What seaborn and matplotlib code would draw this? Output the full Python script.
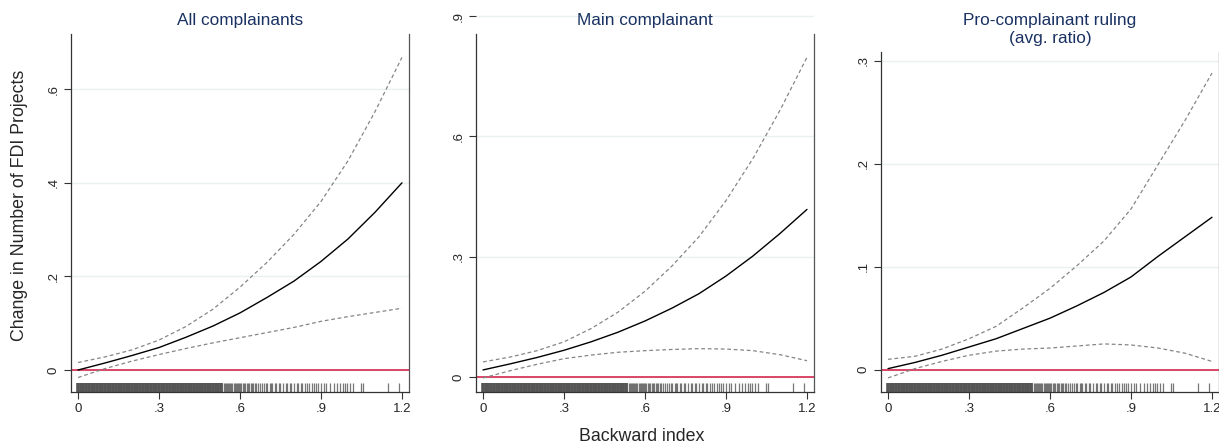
import matplotlib
matplotlib.use('Agg')
import matplotlib.pyplot as plt
import seaborn as sns
import pandas as pd

# x grid of the predicted margins
backward = [0.0, 0.1, 0.2, 0.3, 0.4, 0.5, 0.6, 0.7, 0.8, 0.9, 1.0, 1.1, 1.2]

# All complainants
all_est = [0.000, 0.015, 0.031, 0.048, 0.070, 0.094, 0.122, 0.155, 0.190, 0.232, 0.280, 0.337, 0.400]
all_lo = [-0.016, 0.003, 0.019, 0.033, 0.046, 0.058, 0.069, 0.080, 0.091, 0.104, 0.114, 0.123, 0.132]
all_hi = [0.016, 0.028, 0.043, 0.064, 0.093, 0.130, 0.177, 0.230, 0.290, 0.360, 0.447, 0.552, 0.668]

# Main complainant
main_est = [0.018, 0.033, 0.049, 0.067, 0.088, 0.112, 0.140, 0.172, 0.208, 0.252, 0.302, 0.358, 0.418]
main_lo = [-0.002, 0.016, 0.032, 0.046, 0.055, 0.062, 0.066, 0.069, 0.071, 0.070, 0.066, 0.056, 0.041]
main_hi = [0.038, 0.050, 0.066, 0.088, 0.121, 0.162, 0.214, 0.277, 0.350, 0.440, 0.545, 0.665, 0.797]

# Pro-complainant ruling (avg. ratio)
pro_est = [0.001, 0.007, 0.014, 0.022, 0.030, 0.040, 0.050, 0.062, 0.075, 0.090, 0.110, 0.129, 0.148]
pro_lo = [-0.008, 0.001, 0.008, 0.014, 0.018, 0.020, 0.021, 0.023, 0.025, 0.024, 0.021, 0.016, 0.008]
pro_hi = [0.010, 0.013, 0.020, 0.030, 0.042, 0.060, 0.079, 0.101, 0.125, 0.156, 0.199, 0.242, 0.288]

# observed values of the backward index (rug)
rug_dense = [0.00, 0.01, 0.02, 0.03, 0.04, 0.05, 0.06, 0.07, 0.08, 0.09,
             0.10, 0.11, 0.12, 0.13, 0.14, 0.15, 0.16, 0.17, 0.18, 0.19,
             0.20, 0.21, 0.22, 0.23, 0.24, 0.25, 0.26, 0.27, 0.28, 0.29,
             0.30, 0.31, 0.32, 0.33, 0.34, 0.35, 0.36, 0.37, 0.38, 0.39,
             0.40, 0.41, 0.42, 0.43, 0.44, 0.45, 0.46, 0.47, 0.48, 0.49,
             0.50, 0.51, 0.52, 0.53]
rug_sparse = [0.535, 0.540, 0.544, 0.548, 0.552, 0.556, 0.560, 0.564, 0.568, 0.572,
              0.576, 0.580, 0.584, 0.588, 0.592, 0.596,
              0.600, 0.605, 0.610, 0.615, 0.620, 0.625, 0.630, 0.635, 0.640, 0.645,
              0.650, 0.655, 0.660, 0.668, 0.675, 0.680, 0.690, 0.695, 0.700, 0.710,
              0.715, 0.720, 0.730, 0.735, 0.745, 0.750, 0.760, 0.770, 0.775, 0.785,
              0.790, 0.800, 0.810, 0.815, 0.825, 0.830, 0.840, 0.850, 0.855, 0.865,
              0.875, 0.880, 0.890, 0.900, 0.910, 0.920, 0.933, 0.949, 0.961, 0.970,
              0.980, 0.989, 0.998, 1.007, 1.020, 1.047, 1.057, 1.147, 1.190]

titles = [['All complainants'], ['Main complainant'], ['Pro-complainant ruling', '(avg. ratio)']]
x_ticks = [0, 0.3, 0.6, 0.9, 1.2]
x_ticklabels = ['0', '.3', '.6', '.9', '1.2']
y_ticks = [[0, 0.2, 0.4, 0.6], [0, 0.3, 0.6, 0.9], [0, 0.1, 0.2, 0.3]]
y_ticklabels = [['0', '.2', '.4', '.6'], ['0', '.3', '.6', '.9'], ['0', '.1', '.2', '.3']]

sns.set_style('white')
plt.rcParams['font.family'] = ['Liberation Sans', 'DejaVu Sans']

W, H = 1219, 444
fig = plt.figure(figsize=(W / 100, H / 100), dpi=100)

# axes boxes in pixels: left, right, top, bottom
boxes = [(71, 409, 34, 392), (476, 814, 14, 392), (881, 1219, 52, 392)]
ylims = [(-0.047, 0.718), (-0.037, 0.905), (-0.0217, 0.3085)]
spine_top = [0.718, 0.855, 0.3085]

series = [(all_est, all_lo, all_hi), (main_est, main_lo, main_hi), (pro_est, pro_lo, pro_hi)]

for i in range(3):
    l, r, t, b = boxes[i]
    ax = fig.add_axes([l / W, 1 - b / H, (r - l) / W, (b - t) / H])
    est, lo, hi = series[i]
    df = pd.DataFrame({'x': backward, 'est': est, 'lo': lo, 'hi': hi})

    for yv in y_ticks[i]:
        ax.axhline(yv, color='#eaf1f3', lw=1.0, zorder=0)
    ax.axhline(0, color='#d4163f', lw=1.1, zorder=2)

    sns.lineplot(data=df, x='x', y='lo', ax=ax, color='#858585', lw=0.9,
                 linestyle=(0, (3, 2.2)), zorder=3)
    sns.lineplot(data=df, x='x', y='hi', ax=ax, color='#858585', lw=0.9,
                 linestyle=(0, (3, 2.2)), zorder=3)
    sns.lineplot(data=df, x='x', y='est', ax=ax, color='black', lw=1.0, zorder=4)

    rug_h = 9 / (b - t)
    sns.rugplot(x=rug_dense, ax=ax, height=rug_h, color='#555555', linewidth=2.6)
    sns.rugplot(x=rug_sparse, ax=ax, height=rug_h, color='#5f5f5f', linewidth=0.9, alpha=0.85)

    ax.set_xlim(-0.026, 1.226)
    ax.set_ylim(*ylims[i])
    ax.set_xticks(x_ticks)
    ax.set_xticklabels(x_ticklabels)
    ax.set_yticks(y_ticks[i])
    ax.set_yticklabels(y_ticklabels[i], rotation=90, va='center')
    ax.tick_params(axis='both', direction='out', length=5, width=0.8,
                   color='#333333', labelsize=9.5, pad=3, left=True, bottom=True)
    ax.set_xlabel('')
    ax.set_ylabel('')

    ax.spines['top'].set_visible(False)
    for side in ['left', 'bottom', 'right']:
        ax.spines[side].set_color('#333333')
        ax.spines[side].set_linewidth(0.9)
    ax.spines['right'].set_color('#555555')
    ax.spines['left'].set_bounds(ylims[i][0], spine_top[i])
    ax.spines['right'].set_bounds(ylims[i][0], spine_top[i])

    for k, line in enumerate(titles[i]):
        fig.text((l + r) / 2 / W, 1 - (21 + 17 * k) / H, line, ha='center', va='center',
                 color='#1a3262', fontsize=12.4)

fig.text(20 / W, 1 - 205 / H, 'Change in Number of FDI Projects', rotation=90,
         ha='center', va='center', fontsize=12.8)
fig.text(642 / W, 1 - 436 / H, 'Backward index', ha='center', va='center', fontsize=12.8)

fig.savefig('out.png', dpi=100)
